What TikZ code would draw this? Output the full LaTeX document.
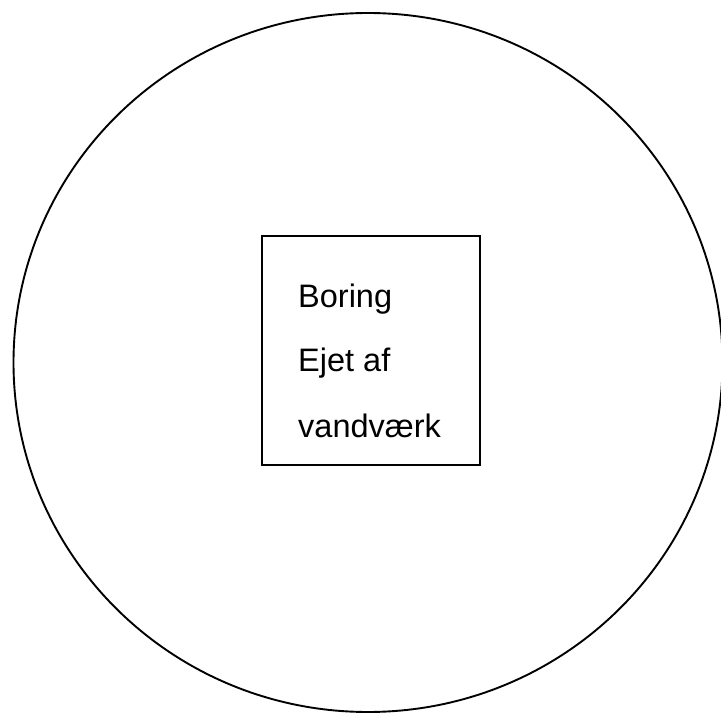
\documentclass[tikz,border=0pt]{standalone}
\usepackage{fontspec}
\setmainfont{Liberation Sans}
\begin{document}
\begin{tikzpicture}[x=1pt,y=-1pt,
  outline/.style={draw=black,line width=1.9pt},
  boxstyle/.style={draw=black,line width=2.8pt,minimum width=218pt,minimum height=229pt,inner sep=0pt},
  lbl/.style={anchor=base west,inner sep=0pt,font=\fontsize{32.5}{32.5}\selectfont}]
\useasboundingbox (0,0) rectangle (721,714);
\draw[outline] (368,362.5) ellipse [x radius=354.5, y radius=349.5];
\node[boxstyle] (box) at (371,350.5) {};
\node[lbl] (t1) at (298,308) {Boring};
\node[lbl] (t2) at (298,372) {Ejet af};
\node[lbl] (t3) at (298,437) {vandværk};
\end{tikzpicture}
\end{document}
